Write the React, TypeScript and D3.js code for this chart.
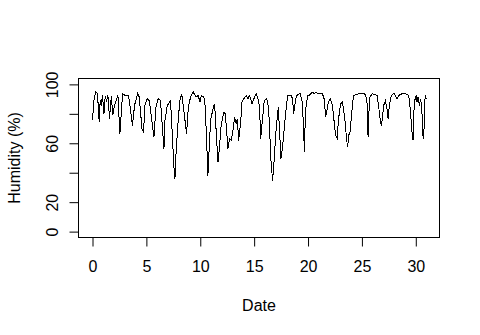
import React, { useEffect, useRef } from 'react';
import * as d3 from 'd3';

// day offsets and relative humidity (%)
const days = [
  0.0, 0.16, 0.31, 0.46, 0.62, 0.71, 0.81, 0.93, 1.06, 1.18, 1.3, 1.43, 1.58, 1.74, 1.89, 2.04,
  2.36, 2.54, 2.79, 3.04, 3.35, 3.71, 3.9, 4.18, 4.34, 4.59, 4.74, 4.86, 5.08, 5.27, 5.7, 5.89,
  6.1, 6.31, 6.63, 6.72, 6.94, 7.24, 7.56, 7.65, 7.71, 7.96, 8.11, 8.27, 8.42, 8.73, 8.89, 9.1,
  9.35, 9.6, 9.81, 9.97, 10.09, 10.34, 10.46, 10.65, 10.71, 10.77, 10.96, 11.18, 11.33, 11.64,
  11.7, 11.95, 12.2, 12.32, 12.57, 12.72, 12.88, 13.03, 13.19, 13.34, 13.44, 13.56, 13.75, 13.87,
  14.05, 14.27, 14.42, 14.58, 14.8, 15.04, 15.2, 15.41, 15.51, 15.6, 15.73, 15.94, 16.16, 16.34,
  16.56, 16.71, 16.81, 17.03, 17.24, 17.49, 17.64, 17.89, 18.1, 18.42, 18.57, 18.66, 18.82, 18.94,
  19.26, 19.44, 19.59, 19.66, 19.72, 19.81, 19.96, 20.11, 20.27, 20.43, 20.58, 20.74, 20.86, 21.33,
  21.49, 21.64, 21.86, 22.05, 22.26, 22.56, 22.72, 22.81, 23.03, 23.19, 23.4, 23.59, 23.68, 23.77,
  23.9, 24.05, 24.21, 24.73, 25.2, 25.35, 25.51, 25.57, 25.66, 25.75, 25.97, 26.4, 26.56, 26.71,
  26.81, 26.93, 27.02, 27.18, 27.33, 27.43, 27.55, 27.73, 27.95, 28.1, 28.26, 28.41, 28.73, 29.03,
  29.34, 29.5, 29.66, 29.75, 29.81, 29.9, 30.03, 30.12, 30.21, 30.33, 30.46, 30.58, 30.67, 30.74,
  30.83, 30.9, 30.96
];

const humidity = [
  76, 91.4, 94.8, 94, 74.4, 89, 85.7, 92.5, 80, 91.8, 89, 92.5, 76.7, 91.8, 79, 85.7,
  92.5, 66.4, 93.7, 92.5, 92.5, 72, 85.7, 93.7, 91.4, 69.8, 67.6, 85.7, 90.3, 89, 64.2, 84.6,
  90.3, 89, 56.2, 75.5, 85.7, 89, 43.7, 35.8, 48.3, 76.7, 89, 93.7, 85.7, 66.4, 84.6, 91.4,
  94.8, 91.4, 92.5, 88, 92.5, 91.4, 84.6, 50.6, 38, 48.3, 75.5, 83.5, 86.9, 47.1,
  50.6, 73.2, 81.2, 80, 56.3, 63, 61.9, 68.7, 77.8, 73.2, 76.7, 61.9, 74.4, 88,
  90.3, 92.5, 90.3, 92.5, 86.9, 91.4, 93.7, 89, 83.5, 63, 73.2, 89, 90.3, 84.6,
  48.3, 34.7, 43.7, 68.7, 84.6, 49.5, 57.4, 77.8, 92.5, 92.5, 90.3, 80, 88, 92.5,
  93.7, 89, 71, 54, 70, 84.6, 92.5, 92.5, 93.7, 94.8, 93.7, 94.8, 93.7, 93.7,
  90.3, 77.8, 86.9, 90.3, 85.7, 65.3, 63, 75.5, 86.9, 88, 77.8, 61.9, 57.4, 65.3,
  67.6, 80, 92.5, 93.7, 93.7, 92.5, 85.7, 64.2, 82.3, 91.4, 93.7, 92.5, 84.6, 75.5,
  72, 79, 85.7, 89, 83.5, 76.7, 85.7, 92.5, 94, 92.5, 90.3, 92.5, 93.7, 93.7,
  92.5, 82.3, 66.4, 61.9, 80, 89, 92.5, 88, 91.4, 85.7, 90.3, 80, 65.3, 63,
  89, 92.5, 90.3
];

const xTicks = [0, 5, 10, 15, 20, 25, 30];
const yTicks = [0, 20, 40, 60, 80, 100];
// R drops the rotated labels that would overlap
const yLabels = [0, 20, 60, 100];

const App = () => {
  const svgRef = useRef<SVGSVGElement>(null);

  useEffect(() => {
    const width = 480;
    const height = 335;
    const plot = { left: 78.5, right: 439.5, top: 78.5, bottom: 237.5 };
    const font = "Arial, 'Liberation Sans', sans-serif";

    const svg = d3.select(svgRef.current)
      .attr("width", width)
      .attr("height", height);
    svg.selectAll("*").remove();

    svg.append("rect")
      .attr("width", width)
      .attr("height", height)
      .attr("fill", "#fff");

    const x = d3.scaleLinear().domain([-1.3, 32.2]).range([plot.left, plot.right]);
    const y = d3.scaleLinear().domain([-4, 104]).range([plot.bottom, plot.top]);

    // data line
    const line = d3.line<number>()
      .x((_, i) => x(days[i]))
      .y(d => y(d));

    svg.append("path")
      .datum(humidity)
      .attr("d", line)
      .attr("fill", "none")
      .attr("stroke", "#000")
      .attr("stroke-width", 1)
      .attr("shape-rendering", "crispEdges");

    // box
    svg.append("rect")
      .attr("x", plot.left)
      .attr("y", plot.top)
      .attr("width", plot.right - plot.left)
      .attr("height", plot.bottom - plot.top)
      .attr("fill", "none")
      .attr("stroke", "#000");

    // x axis
    const gx = svg.append("g")
      .attr("transform", `translate(0,${plot.bottom})`)
      .call(d3.axisBottom(x).tickValues(xTicks).tickSize(9).tickSizeOuter(0).tickPadding(14));
    gx.select(".domain").remove();
    gx.append("line")
      .attr("x1", x(0)).attr("x2", x(30))
      .attr("stroke", "#000");
    gx.selectAll("text")
      .attr("fill", "#000")
      .style("font-family", font)
      .style("font-size", "16px");
    gx.selectAll(".tick line").attr("stroke", "#000");

    // y axis with rotated labels
    const gy = svg.append("g")
      .attr("transform", `translate(${plot.left},0)`)
      .call(d3.axisLeft(y)
        .tickValues(yTicks)
        .tickSize(9)
        .tickSizeOuter(0)
        .tickFormat(d => (yLabels.includes(+d) ? String(d) : "")));
    gy.select(".domain").remove();
    gy.selectAll(".tick line").attr("stroke", "#000");
    gy.selectAll(".tick text")
      .attr("x", 0)
      .attr("y", -21)
      .attr("dy", null)
      .attr("transform", "rotate(-90)")
      .attr("text-anchor", "middle")
      .attr("fill", "#000")
      .style("font-family", font)
      .style("font-size", "16px");

    // axis titles
    svg.append("text")
      .attr("x", (plot.left + plot.right) / 2)
      .attr("y", 311)
      .attr("text-anchor", "middle")
      .style("font-family", font)
      .style("font-size", "16px")
      .text("Date");

    svg.append("text")
      .attr("transform", `translate(20,${(plot.top + plot.bottom) / 2}) rotate(-90)`)
      .attr("text-anchor", "middle")
      .style("font-family", font)
      .style("font-size", "16px")
      .text("Humidity (%)");
  }, []);

  return (
    <svg ref={svgRef} style={{ position: "absolute", left: 0, top: 0, display: "block" }}></svg>
  );
};

export default App;
